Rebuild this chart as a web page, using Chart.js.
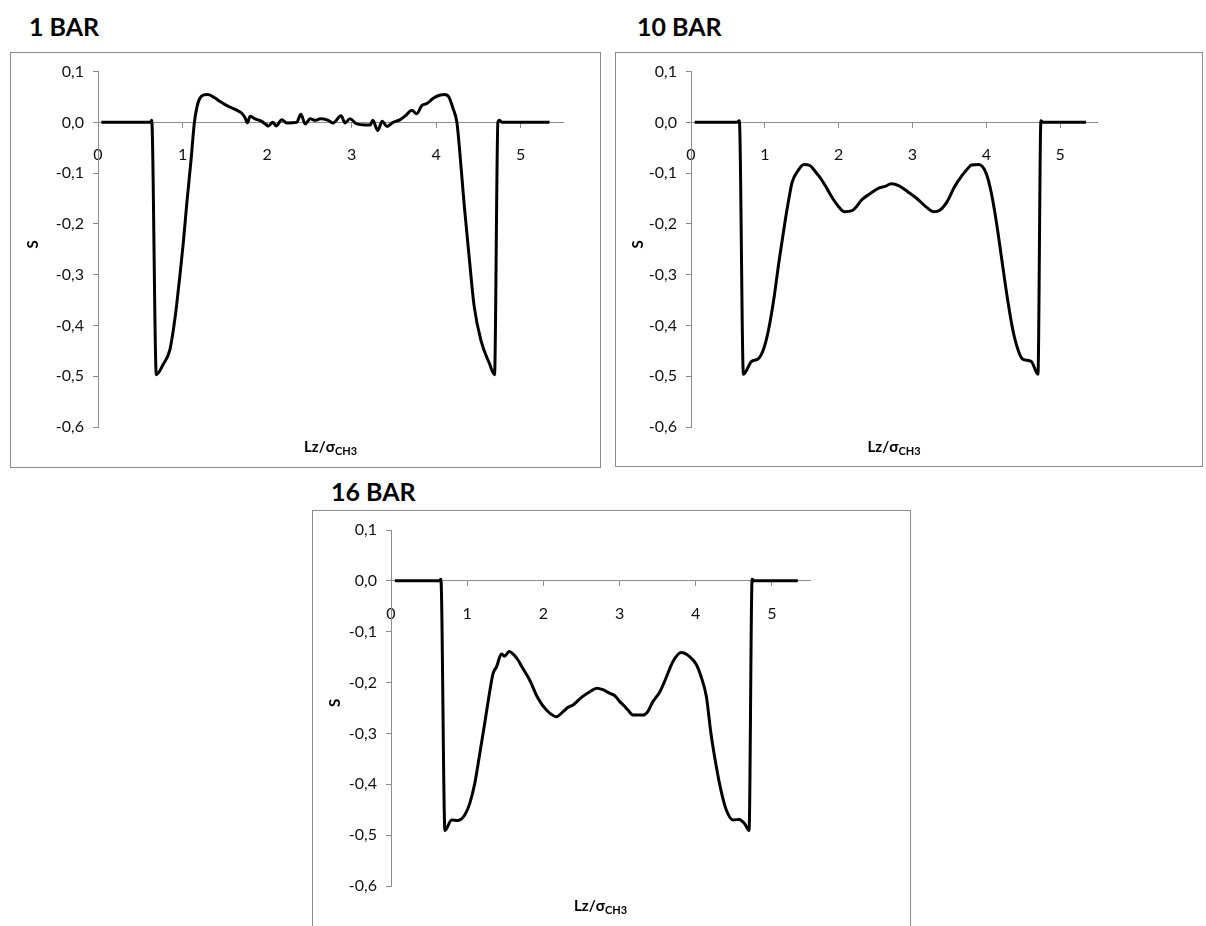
<!DOCTYPE html>
<html>
<head>
<meta charset="utf-8">
<script src="https://cdn.jsdelivr.net/npm/chart.js@4/dist/chart.umd.min.js"></script>
<style>
    html, body { margin: 0; padding: 0; background: #fff; overflow: hidden; }
    body { width: 1206px; height: 926px; position: relative; font-family: Lato, 'Open Sans', sans-serif; }
    .ttl { position: absolute; font-weight: bold; font-size: 25px; line-height: 25px; color: #000; }
    .box { position: absolute; border: 1px solid #8c8c8c; }
    .box canvas { position: absolute; left: 0; top: 0; }
</style>
</head>
<body>
<div class="ttl" style="left:29px; top:14px;">1 BAR</div>
<div class="ttl" style="left:637px; top:14px;">10 BAR</div>
<div class="ttl" style="left:331px; top:479px;">16 BAR</div>

<div class="box" style="left:10px; top:52px; width:589px; height:414px;"><canvas id="c1" width="589" height="414"></canvas></div>
<div class="box" style="left:615px; top:52px; width:586px; height:413px;"><canvas id="c2" width="586" height="413"></canvas></div>
<div class="box" style="left:312px; top:510px; width:597px; height:428px;"><canvas id="c3" width="597" height="428"></canvas></div>

<script>
// S order parameter vs Lz/sigma_CH3

// 1 bar
const bar1X = [0.04, 0.62, 0.635, 0.69, 0.77, 0.85, 0.89, 0.93, 0.97, 1.01, 1.05, 1.10, 1.14, 1.17, 1.20,
    1.25, 1.30, 1.385, 1.444, 1.503, 1.562, 1.64, 1.70, 1.74, 1.767, 1.80, 1.858, 1.937, 2.015, 2.067,
    2.107, 2.174, 2.233, 2.35, 2.40, 2.45, 2.51, 2.57, 2.63, 2.71, 2.78, 2.876, 2.92, 2.98, 3.06, 3.16,
    3.22, 3.25, 3.31, 3.36, 3.42, 3.49, 3.57, 3.65, 3.71, 3.77, 3.83, 3.89, 3.97, 4.05, 4.10, 4.15, 4.20,
    4.245, 4.28, 4.33, 4.39, 4.45, 4.53, 4.63, 4.69, 4.73, 4.75, 4.78, 5.34];
const bar1S = [0, 0, 0.004, -0.497, -0.477, -0.448, -0.41, -0.36, -0.30, -0.235, -0.16, -0.075, 0.0, 0.03, 0.046,
    0.054, 0.055, 0.048, 0.041, 0.035, 0.030, 0.024, 0.018, 0.009, -0.001, 0.012, 0.007, 0.002, -0.007, 0.0,
    -0.007, 0.005, -0.001, 0.0, 0.016, -0.003, 0.007, 0.004, 0.007, 0.005, -0.001, 0.013, -0.001, 0.007, -0.003, -0.005,
    -0.005, 0.004, -0.016, 0.002, -0.008, 0.0, 0.005, 0.015, 0.024, 0.017, 0.033, 0.037, 0.048, 0.054, 0.055, 0.05, 0.027,
    0.0, -0.06, -0.16, -0.265, -0.363, -0.43, -0.475, -0.497, 0.0, 0.004, 0, 0];

// 10 bar
const bar10X = [0.05, 0.62, 0.655, 0.71, 0.82, 0.91, 0.98, 1.05, 1.12, 1.196, 1.27, 1.33, 1.37, 1.45, 1.53,
    1.61, 1.69, 1.76, 1.84, 1.92, 2.0, 2.08, 2.18, 2.24, 2.31, 2.43, 2.55, 2.63, 2.71, 2.82, 2.94, 3.06,
    3.18, 3.29, 3.37, 3.47, 3.57, 3.67, 3.75, 3.80, 3.90, 4.0, 4.07, 4.14, 4.21, 4.29, 4.36, 4.43, 4.49,
    4.61, 4.70, 4.74, 4.77, 5.35];
const bar10S = [0, 0, 0.003, -0.496, -0.471, -0.466, -0.448, -0.409, -0.35, -0.27, -0.199, -0.147, -0.118, -0.095, -0.083,
    -0.085, -0.098, -0.111, -0.13, -0.15, -0.166, -0.176, -0.174, -0.166, -0.153, -0.14, -0.129, -0.126, -0.121, -0.125, -0.137, -0.15,
    -0.166, -0.176, -0.173, -0.156, -0.127, -0.105, -0.091, -0.084, -0.083, -0.101, -0.14, -0.199, -0.27, -0.35, -0.409, -0.448, -0.466,
    -0.471, -0.496, 0.003, 0, 0];

// 16 bar
const bar16X = [0.05, 0.63, 0.655, 0.708, 0.795, 0.88, 0.97, 1.035, 1.10, 1.166, 1.23, 1.30, 1.34, 1.385, 1.45,
    1.49, 1.55, 1.65, 1.73, 1.82, 1.93, 2.04, 2.17, 2.26, 2.32, 2.39, 2.50, 2.61, 2.70, 2.78, 2.87, 2.94,
    3.00, 3.05, 3.11, 3.18, 3.31, 3.37, 3.44, 3.53, 3.61, 3.70, 3.81, 3.92, 4.01, 4.07, 4.14, 4.20, 4.27,
    4.33, 4.40, 4.49, 4.57, 4.64, 4.70, 4.74, 4.77, 5.34];
const bar16S = [0, 0, 0.003, -0.491, -0.47, -0.471, -0.46, -0.437, -0.398, -0.339, -0.28, -0.214, -0.182, -0.169, -0.144,
    -0.148, -0.139, -0.152, -0.172, -0.195, -0.231, -0.254, -0.267, -0.257, -0.249, -0.244, -0.229, -0.218, -0.211, -0.214, -0.221, -0.226,
    -0.237, -0.244, -0.254, -0.264, -0.264, -0.257, -0.237, -0.218, -0.191, -0.159, -0.141, -0.149, -0.165, -0.188, -0.228, -0.3, -0.365,
    -0.411, -0.45, -0.47, -0.469, -0.477, -0.491, 0.003, 0, 0];

const xTicks = [0, 1, 2, 3, 4, 5];
const yTicks = [0.1, 0.0, -0.1, -0.2, -0.3, -0.4, -0.5, -0.6];

Chart.defaults.font.family = 'Lato, "Open Sans", sans-serif';

// axis titles drawn by hand, the x one needs a subscript
const axisTitles = {
    id: 'axisTitles',
    afterDraw: function (chart) {
        const ctx = chart.ctx;
        const a = chart.chartArea;
        ctx.save();
        ctx.fillStyle = '#000';
        ctx.textBaseline = 'alphabetic';
        const main = 'Lz/\u03C3';
        ctx.font = 'bold 15px Lato';
        const w1 = ctx.measureText(main).width;
        ctx.font = 'bold 11px Lato';
        const w2 = ctx.measureText('CH3').width;
        const x0 = (a.left + a.right) / 2 - (w1 + w2) / 2;
        const yb = a.bottom + 25;
        ctx.font = 'bold 15px Lato';
        ctx.textAlign = 'left';
        ctx.fillText(main, x0, yb);
        ctx.font = 'bold 11px Lato';
        ctx.fillText('CH3', x0 + w1, yb + 3);

        ctx.translate(22, (a.top + a.bottom) / 2 - 5);
        ctx.rotate(-Math.PI / 2);
        ctx.font = 'bold 15px Lato';
        ctx.textAlign = 'center';
        ctx.textBaseline = 'middle';
        ctx.fillText('S', 0, 0);
        ctx.restore();
    }
};

function fmt(v) {
    if (Math.abs(v) < 1e-9) return '0,0';
    return v.toFixed(1).replace('.', ',');
}

function drawProfile(canvasId, xs, ys, pad) {
    const pts = xs.map(function (x, i) { return { x: x, y: ys[i] }; });
    return new Chart(document.getElementById(canvasId), {
        type: 'line',
        data: {
            datasets: [{
                data: pts,
                borderColor: '#000',
                borderWidth: 3,
                pointRadius: 0,
                cubicInterpolationMode: 'monotone',
                fill: false
            }]
        },
        plugins: [axisTitles],
        options: {
            responsive: false,
            animation: false,
            layout: { padding: pad },
            plugins: { legend: { display: false }, tooltip: { enabled: false } },
            scales: {
                x: {
                    type: 'linear',
                    position: { y: 0 },
                    min: 0,
                    max: 5.5,
                    afterBuildTicks: function (scale) {
                        scale.ticks = xTicks.map(function (v) { return { value: v }; });
                    },
                    grid: { drawOnChartArea: false, drawTicks: true, tickLength: 5, tickColor: '#8c8c8c' },
                    border: { display: true, color: '#8c8c8c', width: 1 },
                    ticks: { color: '#111', padding: 18, font: { size: 16 }, maxRotation: 0,
                        callback: function (v) { return String(v); } }
                },
                y: {
                    type: 'linear',
                    position: 'left',
                    min: -0.6,
                    max: 0.1,
                    afterBuildTicks: function (scale) {
                        scale.ticks = yTicks.map(function (v) { return { value: v }; });
                    },
                    afterFit: function (scale) { scale.width = 60; },
                    grid: { drawOnChartArea: false, drawTicks: true, tickLength: 5, tickColor: '#8c8c8c' },
                    border: { display: true, color: '#8c8c8c', width: 1 },
                    ticks: { color: '#111', padding: 9, font: { size: 16 }, callback: fmt }
                }
            }
        }
    });
}

drawProfile('c1', bar1X, bar1S, { left: 27, right: 37, top: 18, bottom: 40 });
drawProfile('c2', bar10X, bar10S, { left: 15, right: 105, top: 18, bottom: 39 });
drawProfile('c3', bar16X, bar16S, { left: 18, right: 100, top: 19, bottom: 53 });
</script>
</body>
</html>
